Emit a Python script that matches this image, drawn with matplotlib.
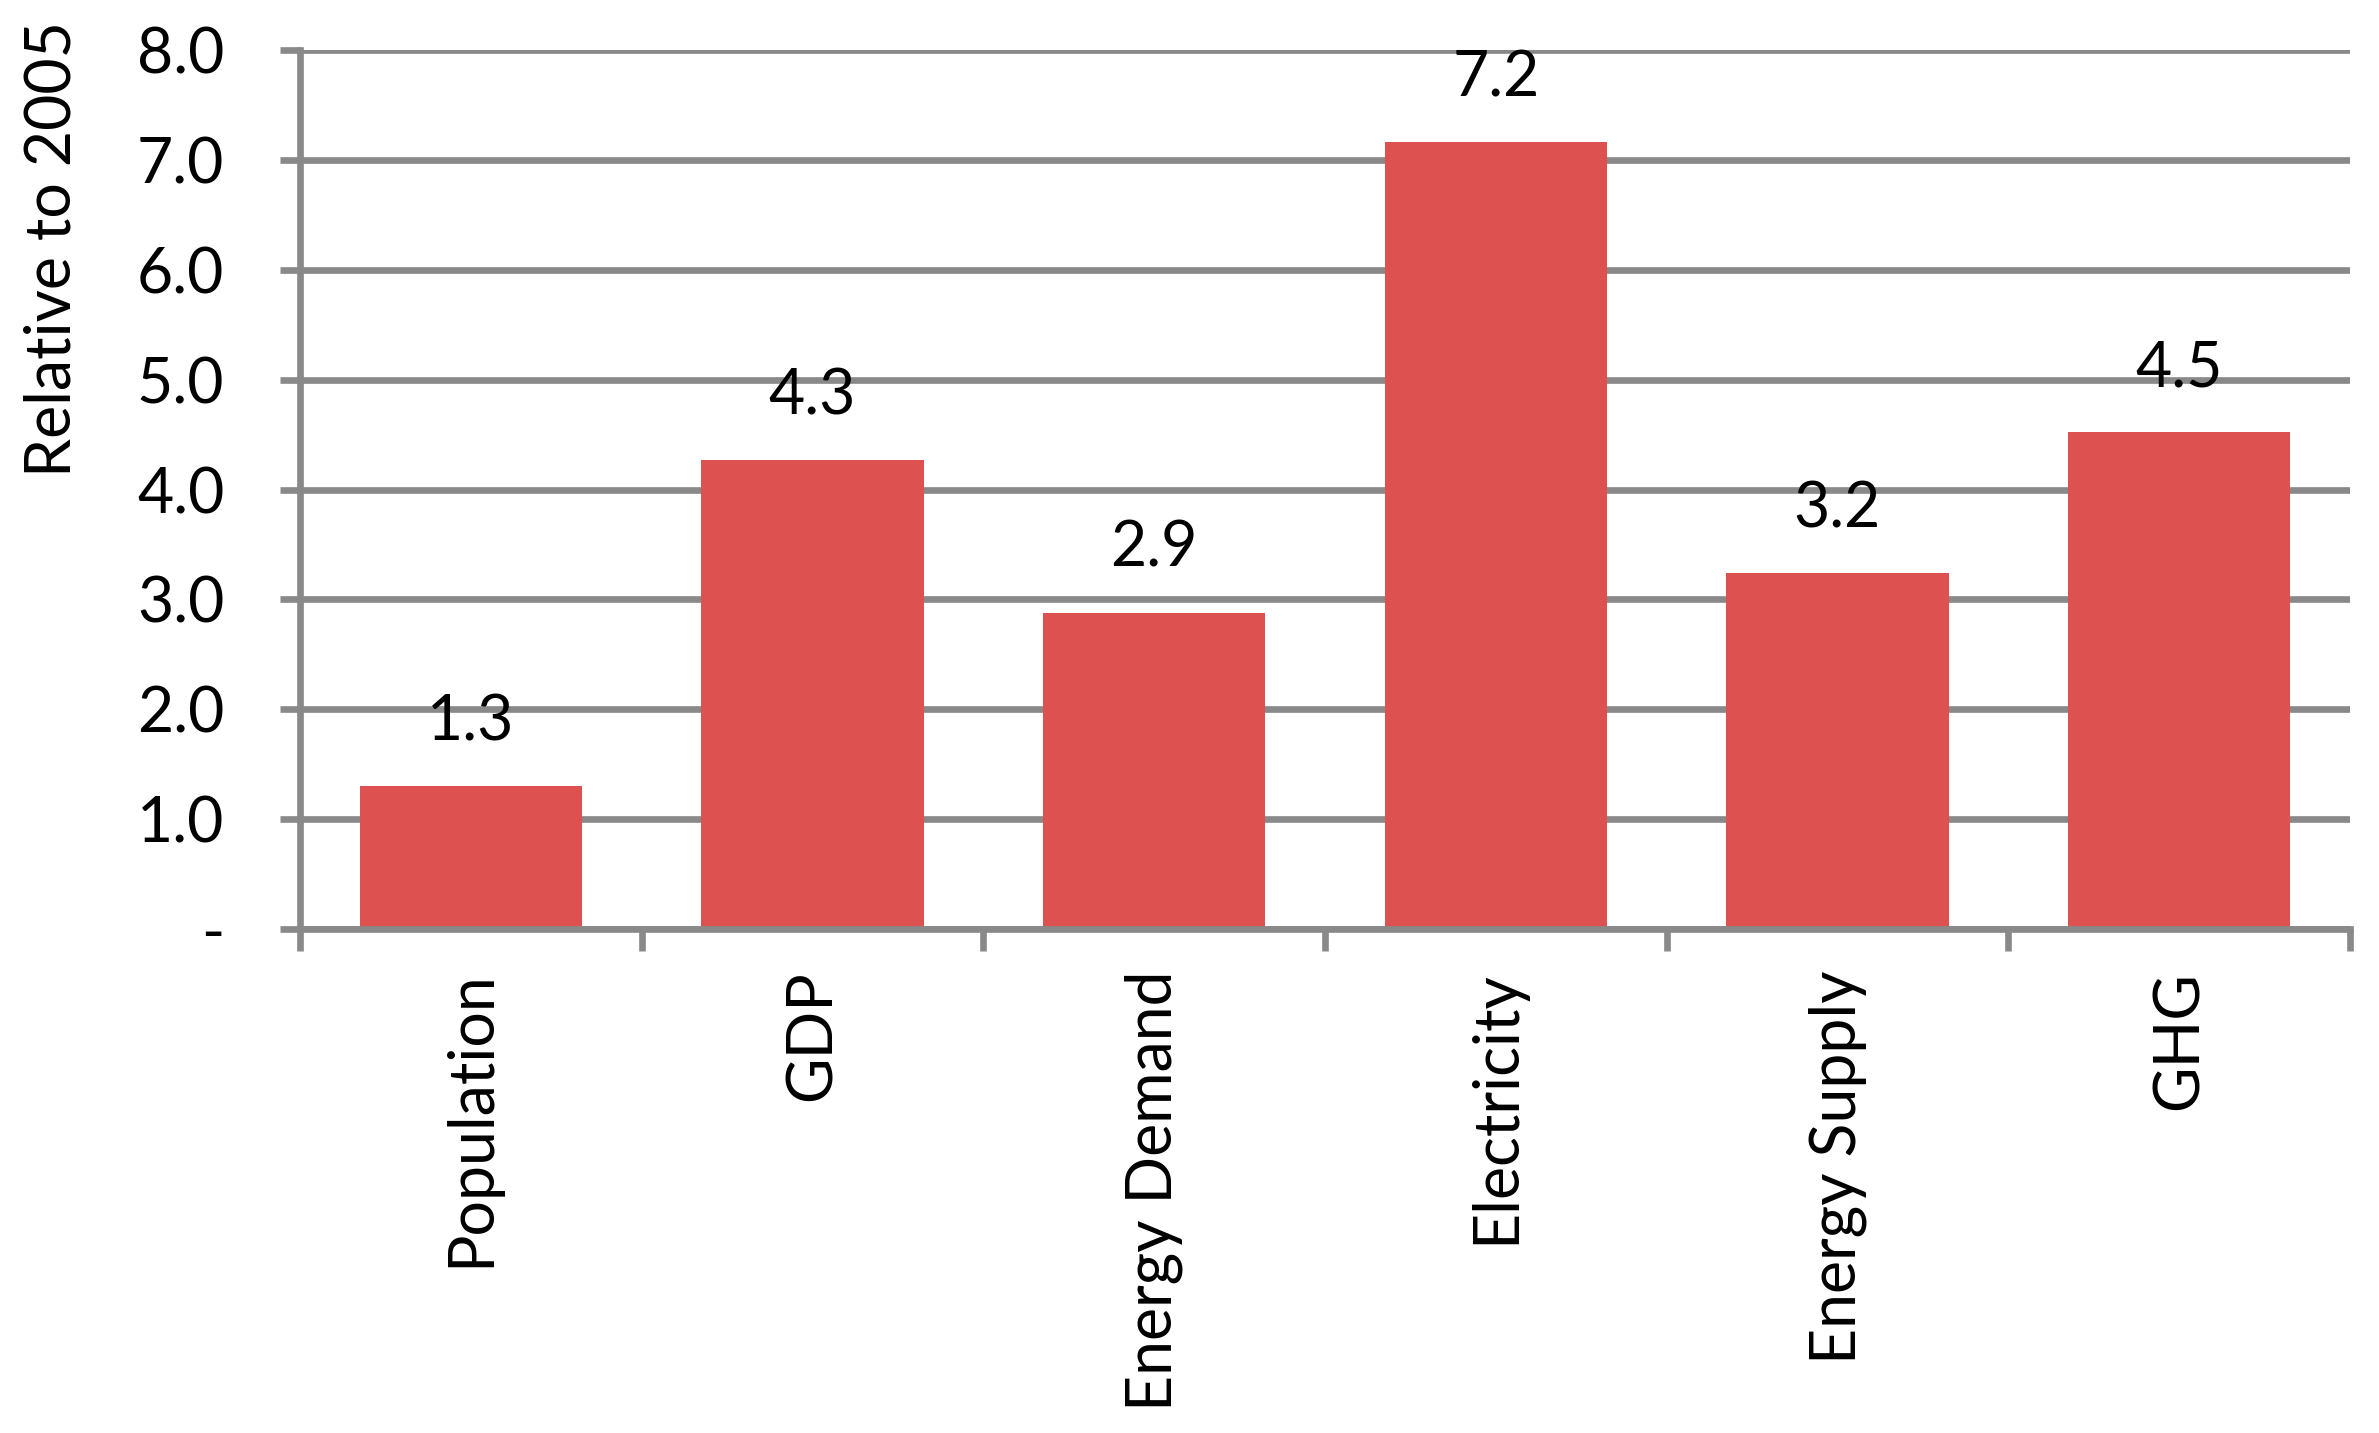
import matplotlib.pyplot as plt
import numpy as np
from matplotlib.ticker import FuncFormatter, FixedLocator

# Values relative to 2005
categories = ['Population', 'GDP', 'Energy Demand', 'Electricity', 'Energy Supply', 'GHG']
values = [1.30, 4.27, 2.88, 7.16, 3.24, 4.52]
yticks = [0, 1, 2, 3, 4, 5, 6, 7, 8]

bar_color = '#DD5150'
grid_color = '#898989'
lw = 4.8
fs = 45

plt.rcParams['font.family'] = ['Lato', 'DejaVu Sans']

fig = plt.figure(figsize=(23.79, 14.33), dpi=100)
ax = fig.add_axes([0.1261, 0.3517, 0.9878 - 0.1261, 0.9651 - 0.3517])

x = np.arange(len(categories))
ax.bar(x, values, width=0.65, color=bar_color, zorder=3)

# Value labels above bars
for xi, v in zip(x, values):
    ax.annotate(f'{v:.1f}', (xi, v), xytext=(0, 25), textcoords='offset points',
                ha='center', va='bottom', fontsize=fs)

ax.set_xlim(-0.5, len(categories) - 0.5)
ax.set_ylim(0, 8)

# Grid lines and y ticks
ax.set_yticks(yticks)
ax.yaxis.set_major_formatter(FuncFormatter(lambda v, p: '-' if v == 0 else f'{v:.1f}'))
ax.grid(axis='y', color=grid_color, linewidth=lw, zorder=0)
ax.tick_params(axis='y', length=14.4, width=lw, color=grid_color, pad=40, labelsize=fs)

# Category ticks between bars, labels at bar centres
ax.set_xticks(x)
ax.set_xticklabels(categories, rotation=90, fontsize=fs, va='top')
ax.tick_params(axis='x', which='major', length=0, pad=30)
ax.xaxis.set_minor_locator(FixedLocator(np.arange(len(categories) + 1) - 0.5))
ax.tick_params(axis='x', which='minor', length=16, width=lw, color=grid_color)

for side in ['top', 'right']:
    ax.spines[side].set_visible(False)
for side in ['left', 'bottom']:
    ax.spines[side].set_color(grid_color)
    ax.spines[side].set_linewidth(lw)
    ax.spines[side].set_zorder(4)

fig.text(0.022, 0.826, 'Relative to 2005', rotation=90, ha='center', va='center', fontsize=fs)

fig.savefig('out.png', dpi=100)
